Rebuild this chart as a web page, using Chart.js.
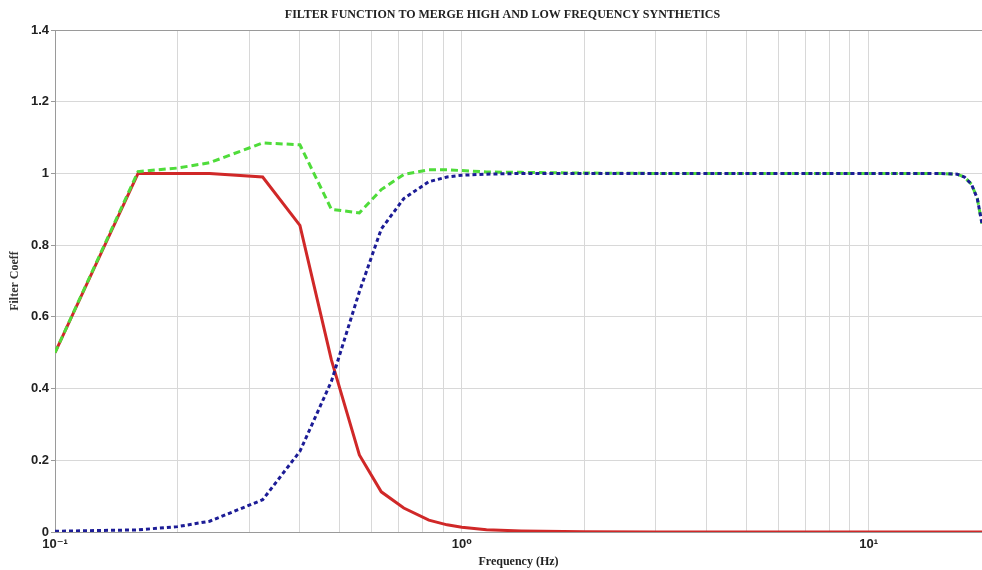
<!DOCTYPE html>
<html>
<head>
<meta charset="utf-8">
<script src="https://cdn.jsdelivr.net/npm/chart.js@4"></script>
<style>
  html, body { margin: 0; padding: 0; background: #fff; overflow: hidden; }
  #wrap { width: 982px; height: 570px; position: relative; }
</style>
</head>
<body>
<div id="wrap"><canvas id="filterChart"></canvas></div>
<script>
/* ---- Datos ---- */
const chartTitle = 'FILTER FUNCTION TO MERGE HIGH AND LOW FREQUENCY SYNTHETICS';

const freqs = [0.1, 0.16, 0.2, 0.24, 0.324, 0.4, 0.478, 0.56, 0.634, 0.72, 0.83, 0.92,
               1.0, 1.15, 1.4, 2, 3, 5, 8, 12, 15, 16.5, 17.2, 17.9, 18.5, 19.0];

const lowPass  = [0.5, 1.0, 1.0, 1.0, 0.99, 0.855, 0.48, 0.215, 0.112, 0.067, 0.033, 0.02,
                  0.013, 0.006, 0.003, 0.001, 0, 0, 0, 0, 0, 0, 0, 0, 0, 0];

const highPass = [0.002, 0.006, 0.015, 0.03, 0.09, 0.225, 0.42, 0.67, 0.845, 0.93, 0.977, 0.99,
                  0.995, 0.998, 1.0, 1.0, 1.0, 1.0, 1.0, 1.0, 1.0, 0.998, 0.99, 0.97, 0.93, 0.86];

const merged   = [0.5, 1.005, 1.015, 1.03, 1.085, 1.08, 0.9, 0.89, 0.955, 0.997, 1.01, 1.01,
                  1.008, 1.004, 1.003, 1.001, 1.0, 1.0, 1.0, 1.0, 1.0, 0.998, 0.99, 0.97, 0.93, 0.86];

// posiciones de la rejilla log (1..9 x 10^n)
const xTickValues = [0.1, 0.2, 0.3, 0.4, 0.5, 0.6, 0.7, 0.8, 0.9,
                     1, 2, 3, 4, 5, 6, 7, 8, 9, 10];
const xTickLabels = { 0.1: '10\u207B\u00B9', 1: '10\u2070', 10: '10\u00B9' };

const toXY = ys => freqs.map((f, i) => ({ x: f, y: ys[i] }));

/* ---- Título (estilo MATLAB) ---- */
const titlePlugin = {
  id: 'matlabTitle',
  afterDraw(chart) {
    const { ctx, chartArea } = chart;
    ctx.save();
    ctx.font = 'bold 12px "Liberation Serif", "DejaVu Serif", serif';
    ctx.fillStyle = '#222';
    ctx.textAlign = 'center';
    ctx.textBaseline = 'middle';
    ctx.fillText(chartTitle, (chartArea.left + chartArea.right) / 2 - 16, 15);
    ctx.restore();
  }
};

const ctx = document.getElementById('filterChart').getContext('2d');

new Chart(ctx, {
  type: 'line',
  data: {
    datasets: [
      {
        label: 'High pass',
        data: toXY(highPass),
        borderColor: '#1c1c96',
        borderWidth: 3,
        borderDash: [4, 3],
        pointRadius: 0,
        tension: 0,
      },
      {
        label: 'Merged',
        data: toXY(merged),
        borderColor: '#4fdc3a',
        borderWidth: 3,
        borderDash: [7, 4],
        pointRadius: 0,
        tension: 0,
      },
      {
        label: 'Low pass',
        data: toXY(lowPass),
        borderColor: '#d02828',
        borderWidth: 3,
        pointRadius: 0,
        tension: 0,
      },
    ],
  },
  options: {
    responsive: true,
    maintainAspectRatio: false,
    animation: false,
    layout: { padding: { top: 30, right: 0, left: 0, bottom: 0 } },
    plugins: {
      legend: { display: false },
      tooltip: { enabled: false },
    },
    scales: {
      x: {
        type: 'logarithmic',
        min: 0.1,
        max: 19.0,
        afterBuildTicks: s => { s.ticks = xTickValues.map(v => ({ value: v })); },
        afterFit: s => { s.height = 38; },
        grid: { color: '#d8d8d8', lineWidth: 1, drawTicks: false },
        border: { color: '#9a9a9a', width: 1 },
        ticks: {
          autoSkip: false,
          maxRotation: 0,
          padding: 5,
          color: '#222',
          font: { family: '"Liberation Sans", "DejaVu Sans", sans-serif', size: 13, weight: 'bold' },
          callback: v => xTickLabels[v] || '',
        },
        title: {
          display: true,
          text: 'Frequency (Hz)',
          color: '#222',
          padding: { top: 0, bottom: 1 },
          font: { family: '"Liberation Serif", "DejaVu Serif", serif', size: 12, weight: 'bold' },
        },
      },
      y: {
        min: 0,
        max: 1.4,
        afterFit: s => { s.width = 55; },
        grid: {
          color: c => (c.tick && c.tick.value >= 1.4 ? '#9a9a9a' : '#d8d8d8'),
          lineWidth: 1,
          tickLength: 4,
          tickColor: '#9a9a9a',
        },
        border: { color: '#9a9a9a', width: 1 },
        ticks: {
          stepSize: 0.2,
          padding: 2,
          color: '#222',
          font: { family: '"Liberation Sans", "DejaVu Sans", sans-serif', size: 13, weight: 'bold' },
          callback: v => String(+v.toFixed(1)),
        },
        title: {
          display: true,
          text: 'Filter Coeff',
          color: '#333',
          padding: { top: 8, bottom: 0 },
          font: { family: '"Liberation Serif", "DejaVu Serif", serif', size: 12, weight: 'bold' },
        },
      },
    },
  },
  plugins: [titlePlugin],
});
</script>
</body>
</html>
